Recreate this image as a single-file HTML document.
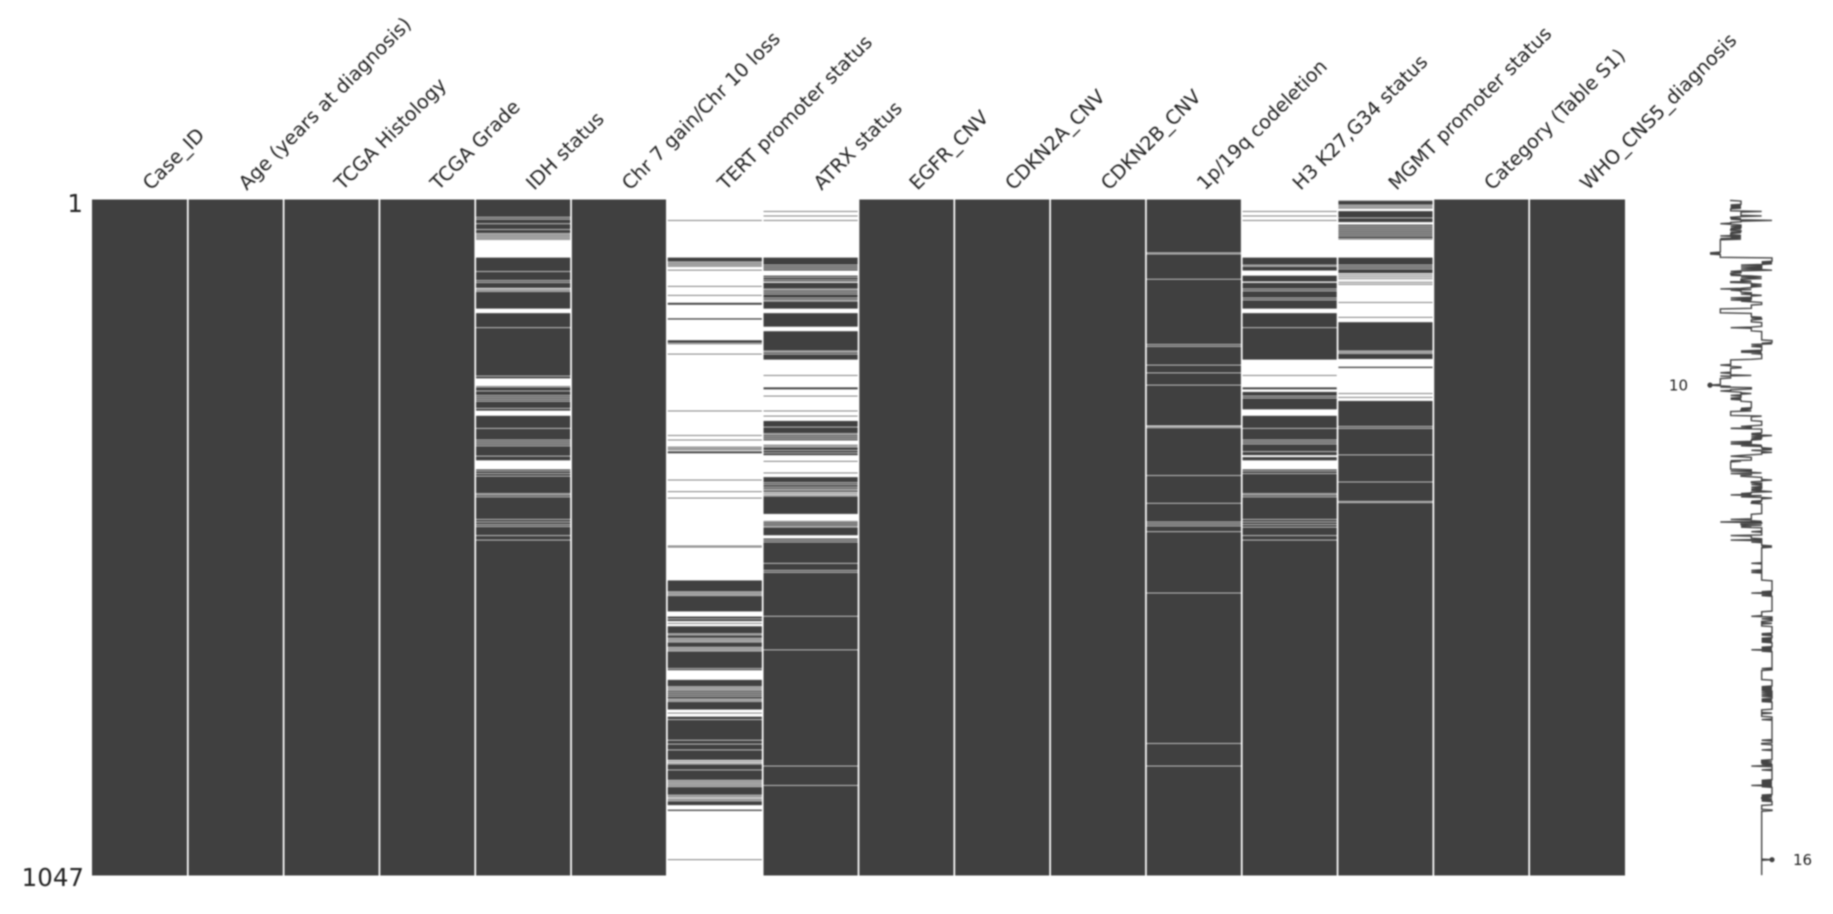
<!DOCTYPE html>
<html lang="en">
<head>
<meta charset="utf-8">
<title>Missingness matrix</title>
<style>
html,body{margin:0;padding:0;background:#fff;width:1833px;height:914px;overflow:hidden}
svg{display:block}
text{font-family:"DejaVu Sans","Liberation Sans",sans-serif;fill:#222222}
</style>
</head>
<body>
<svg id="chart" xmlns="http://www.w3.org/2000/svg" width="1833" height="914" viewBox="0 0 1833 914">
<defs><filter id="soft" x="0" y="0" width="1833" height="914" filterUnits="userSpaceOnUse" color-interpolation-filters="sRGB"><feGaussianBlur stdDeviation="0.8"/></filter></defs>
<rect x="0" y="0" width="1833" height="914" fill="#ffffff"/>
<g id="root" filter="url(#soft)"></g>
</svg>
<script>
const columns = ["Case_ID","Age (years at diagnosis)","TCGA Histology","TCGA Grade","IDH status","Chr 7 gain/Chr 10 loss","TERT promoter status","ATRX status","EGFR_CNV","CDKN2A_CNV","CDKN2B_CNV","1p/19q codeletion","H3 K27,G34 status","MGMT promoter status","Category (Table S1)","WHO_CNS5_diagnosis"];
const rowCount = 1047;
const rowTickLabels = ["1","1047"];
// Missing rows per column (0-based row index); a number is one row, a pair is an inclusive range.
const missingCaseId = [];
const missingAge = [];
const missingHistology = [];
const missingGrade = [];
const missingIdh = [27,30,37,46,52,54,56,58,60,62,[63,89],111,125,128,137,138,140,142,[169,175],198,273,[277,288],290,296,303,306,309,312,323,[327,334],354,372,375,378,381,397,[404,417],420,424,428,455,457,460,495,499,503,506,520,527];
const missingChr7 = [];
const missingTert = [[0,31],[33,89],96,98,100,102,[104,108],[110,133],[135,147],[149,159],[163,183],[186,217],222,[224,238],[240,326],[328,364],[366,371],[373,382],384,386,[388,389],[393,433],[435,451],[453,461],[463,535],537,[539,589],607,609,611,613,[638,645],649,[653,655],[657,660],672,674,679,681,683,685,693,695,697,699,726,[729,743],754,756,758,760,763,766,769,773,775,777,[790,794],[796,800],805,837,843,852,868,869,871,872,874,883,899,901,903,905,907,909,922,924,926,927,929,931,[938,944],[947,1021],[1023,1046]];
const missingAtrx = [[0,17],[19,24],[26,31],[33,89],101,104,107,[110,117],120,124,[127,128],138,140,143,146,152,155,157,[169,175],[197,203],234,236,239,[248,271],[273,290],[294,303],[305,326],[328,334],[336,342],352,362,364,367,370,[373,379],381,383,388,392,[396,404],[406,422],[424,429],438,441,445,448,450,453,454,456,457,459,[487,497],499,502,505,507,[520,524],527,530,563,574,577,645,697,877,907];
const missingEgfr = [];
const missingCdkn2a = [];
const missingCdkn2b = [];
const missing1p19q = [82,84,123,224,227,256,268,287,350,351,353,427,470,499,502,505,514,609,842,877];
const missingH3 = [[0,17],[19,24],[26,31],[33,89],101,103,[110,117],[127,128],138,141,152,155,[169,175],198,[248,271],[273,290],[294,297],304,307,[325,334],354,372,375,378,390,397,[396,398],[404,417],420,424,455,457,460,495,499,503,507,520,527];
const missingMgmt = [0,1,8,10,12,[14,17],28,[35,38],41,44,47,50,53,56,60,[62,89],101,104,107,[114,115],[117,118],[120,121],[123,125],[126,127],[129,130],[132,158],[160,181],[183,189],234,236,238,[247,258],[261,299],[301,305],[307,311],351,354,395,437,467,469];
const missingCategory = [];
const missingWho = [];
const missingByColumn = [missingCaseId,missingAge,missingHistology,missingGrade,missingIdh,missingChr7,missingTert,missingAtrx,missingEgfr,missingCdkn2a,missingCdkn2b,missing1p19q,missingH3,missingMgmt,missingCategory,missingWho];

const NS = "http://www.w3.org/2000/svg";
const root = document.getElementById("root");
const plot = {left:92, right:1625, top:199.5, bottom:875.5};
const spark = {x10:1710, x16:1772};
const colWidth = (plot.right - plot.left) / columns.length;
const xCol = i => plot.left + i * colWidth;
const yRow = r => plot.top + r * (plot.bottom - plot.top) / rowCount;
const xSpark = v => spark.x10 + (v - 10) * (spark.x16 - spark.x10) / 6;

function svgEl(tag, attrs, parent){
  const el = document.createElementNS(NS, tag);
  for (const k in attrs) el.setAttribute(k, attrs[k]);
  (parent || root).appendChild(el);
  return el;
}
const slug = s => s.toLowerCase().replace(/[^a-z0-9]+/g,'-').replace(/^-|-$/g,'');

// Matrix columns
const completeness = new Array(rowCount).fill(columns.length);
columns.forEach((name, i) => {
  const g = svgEl("g", {});
  
  
  const bar = svgEl("rect", {x:xCol(i), y:plot.top, width:colWidth, height:plot.bottom-plot.top, fill:"#404040"}, g);
  
  
  const seen = new Set();
  missingByColumn[i].forEach(item => {
    const a = Array.isArray(item) ? item[0] : item;
    const b = Array.isArray(item) ? item[1] : item;
    for (let r = a; r <= b && r < rowCount; r++) {
      if (!seen.has(r)) { seen.add(r); completeness[r]--; }
    }
    const gap = svgEl("rect", {x:xCol(i), y:yRow(a), width:colWidth, height:yRow(b+1)-yRow(a), fill:"#ffffff"}, g);
    
    
  });
});

// Column separators
for (let i = 1; i < columns.length; i++) {
  const sep = svgEl("line", {x1:xCol(i), x2:xCol(i), y1:plot.top, y2:plot.bottom, stroke:"#ffffff", "stroke-width":1.7});
  
  
}

// Column labels
columns.forEach((name, i) => {
  const cx = xCol(i) + colWidth / 2 + 11;
  const t = svgEl("text", {x:cx, y:191, "font-size":19.3, transform:"rotate(-45 " + cx + " 191)"});
  
  
  t.textContent = name;
});

// Row tick labels
const tickFirst = svgEl("text", {x:83, y:212, "font-size":24.5, "text-anchor":"end"});


tickFirst.textContent = rowTickLabels[0];
const tickLast = svgEl("text", {x:84, y:886, "font-size":24.5, "text-anchor":"end"});


tickLast.textContent = rowTickLabels[1];

// Sparkline derived from per-row completeness
const sparkPoints = completeness.map((v, r) => xSpark(v).toFixed(2) + "," + yRow(r + 0.5).toFixed(2)).join(" ");
const sparkLine = svgEl("polyline", {points:sparkPoints, fill:"none", stroke:"#303030", "stroke-width":1.4, "stroke-opacity":0.9});



const minValue = Math.min(...completeness);
const maxValue = Math.max(...completeness);
const minRow = completeness.lastIndexOf(minValue);
const maxRow = completeness.lastIndexOf(maxValue);

const minDot = svgEl("circle", {cx:xSpark(minValue), cy:yRow(minRow + 0.5), r:2.6, fill:"#404040"});


const maxDot = svgEl("circle", {cx:xSpark(maxValue), cy:yRow(maxRow + 0.5), r:2.6, fill:"#404040"});



const minLabel = svgEl("text", {x:xSpark(minValue) - 22, y:yRow(minRow + 0.5) + 5.5, "font-size":15, "text-anchor":"end"});


minLabel.textContent = String(minValue);
const maxLabel = svgEl("text", {x:xSpark(maxValue) + 21, y:yRow(maxRow + 0.5) + 5.5, "font-size":15, "text-anchor":"start"});


maxLabel.textContent = String(maxValue);
</script>
</body>
</html>
